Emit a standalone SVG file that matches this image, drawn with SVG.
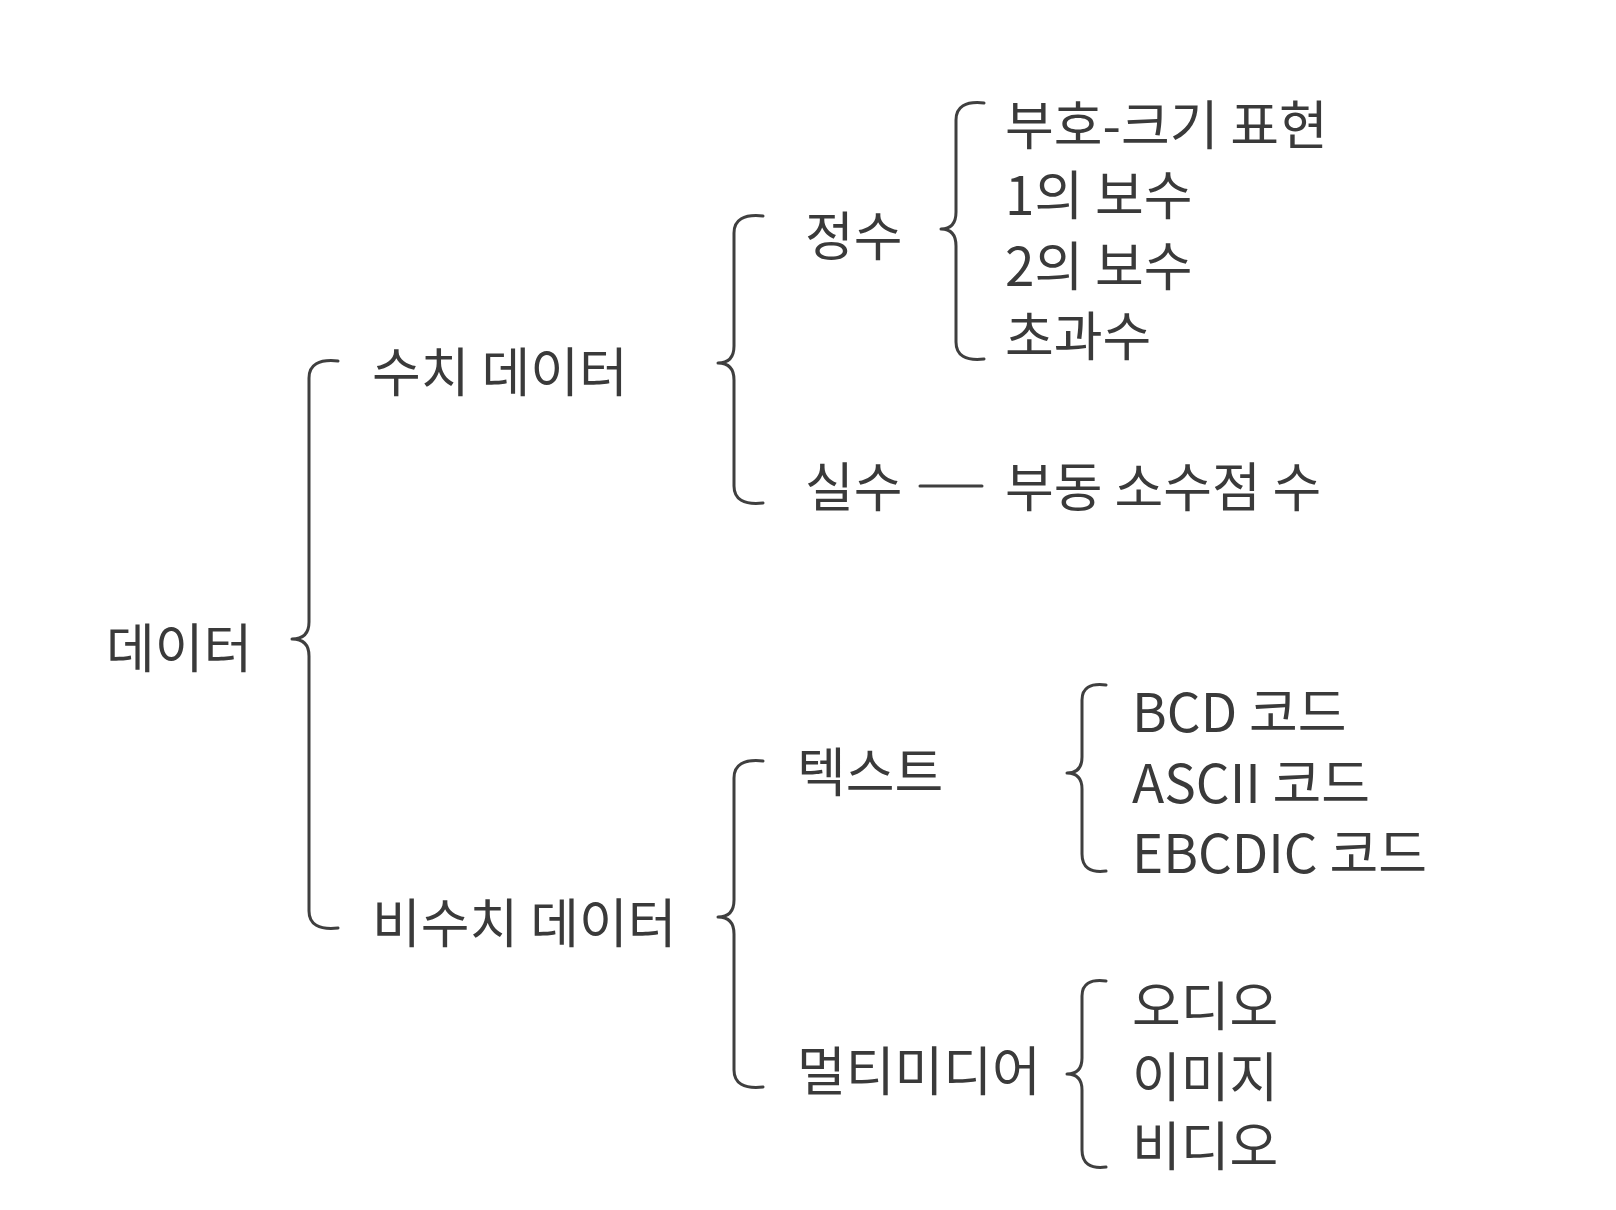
<svg xmlns="http://www.w3.org/2000/svg" width="1616" height="1210" viewBox="0 0 1616 1210">
<style>
text{font-family:"Noto Sans CJK KR","Noto Sans",sans-serif;font-size:53px;fill:#3a3a3a;dominant-baseline:central}
.brace{fill:none;stroke:#3f3f3f;stroke-width:3;stroke-linecap:round;stroke-linejoin:round}
</style>
<rect width="1616" height="1210" fill="#ffffff"/>
<g id="connectors">
<path class="brace" d="M338,361 Q309,358 309,378 L309,622 Q309,639 292,639 Q309,639 309,656 L309,911 Q309,931 338,928"/>
<path class="brace" d="M763,216 Q734,213 734,233 L734,346 Q734,363 718,363 Q734,363 734,380 L734,486 Q734,506 763,503"/>
<path class="brace" d="M984,103 Q956,100 956,120 L956,212 Q956,229 941,229 Q956,229 956,246 L956,342 Q956,362 984,359"/>
<path class="brace" d="M763,761 Q734,758 734,778 L734,900 Q734,917 718,917 Q734,917 734,934 L734,1070 Q734,1090 763,1087"/>
<path class="brace" d="M1106,685 Q1082,682 1082,700 L1082,757 Q1082,773 1067,773 Q1082,773 1082,789 L1082,854 Q1082,874 1106,871"/>
<path class="brace" d="M1106,981 Q1082,978 1082,996 L1082,1058 Q1082,1074 1067,1074 Q1082,1074 1082,1090 L1082,1150 Q1082,1170 1106,1167"/>
<line class="brace" x1="920" y1="486" x2="982" y2="486"/>
</g>
<g id="node-data"><text x="106" y="645">데이터</text></g>
<g id="node-numeric"><text x="372" y="369">수치 데이터</text></g>
<g id="node-nonnumeric"><text x="372" y="920">비수치 데이터</text></g>
<g id="node-integer"><text x="805" y="233">정수</text></g>
<g id="node-real"><text x="805" y="484">실수</text></g>
<g id="node-float"><text x="1005" y="484">부동 소수점 수</text></g>
<g id="node-signmag"><text x="1005" y="122">부호-크기 표현</text></g>
<g id="node-ones"><text x="1005" y="192">1의 보수</text></g>
<g id="node-twos"><text x="1005" y="263">2의 보수</text></g>
<g id="node-excess"><text x="1005" y="333">초과수</text></g>
<g id="node-text"><text x="797" y="769">텍스트</text></g>
<g id="node-multimedia"><text x="797" y="1068">멀티미디어</text></g>
<g id="node-bcd"><text x="1132" y="709">BCD 코드</text></g>
<g id="node-ascii"><text x="1132" y="780">ASCII 코드</text></g>
<g id="node-ebcdic"><text x="1132" y="850">EBCDIC 코드</text></g>
<g id="node-audio"><text x="1132" y="1003">오디오</text></g>
<g id="node-image"><text x="1132" y="1074">이미지</text></g>
<g id="node-video"><text x="1132" y="1143">비디오</text></g>
</svg>
